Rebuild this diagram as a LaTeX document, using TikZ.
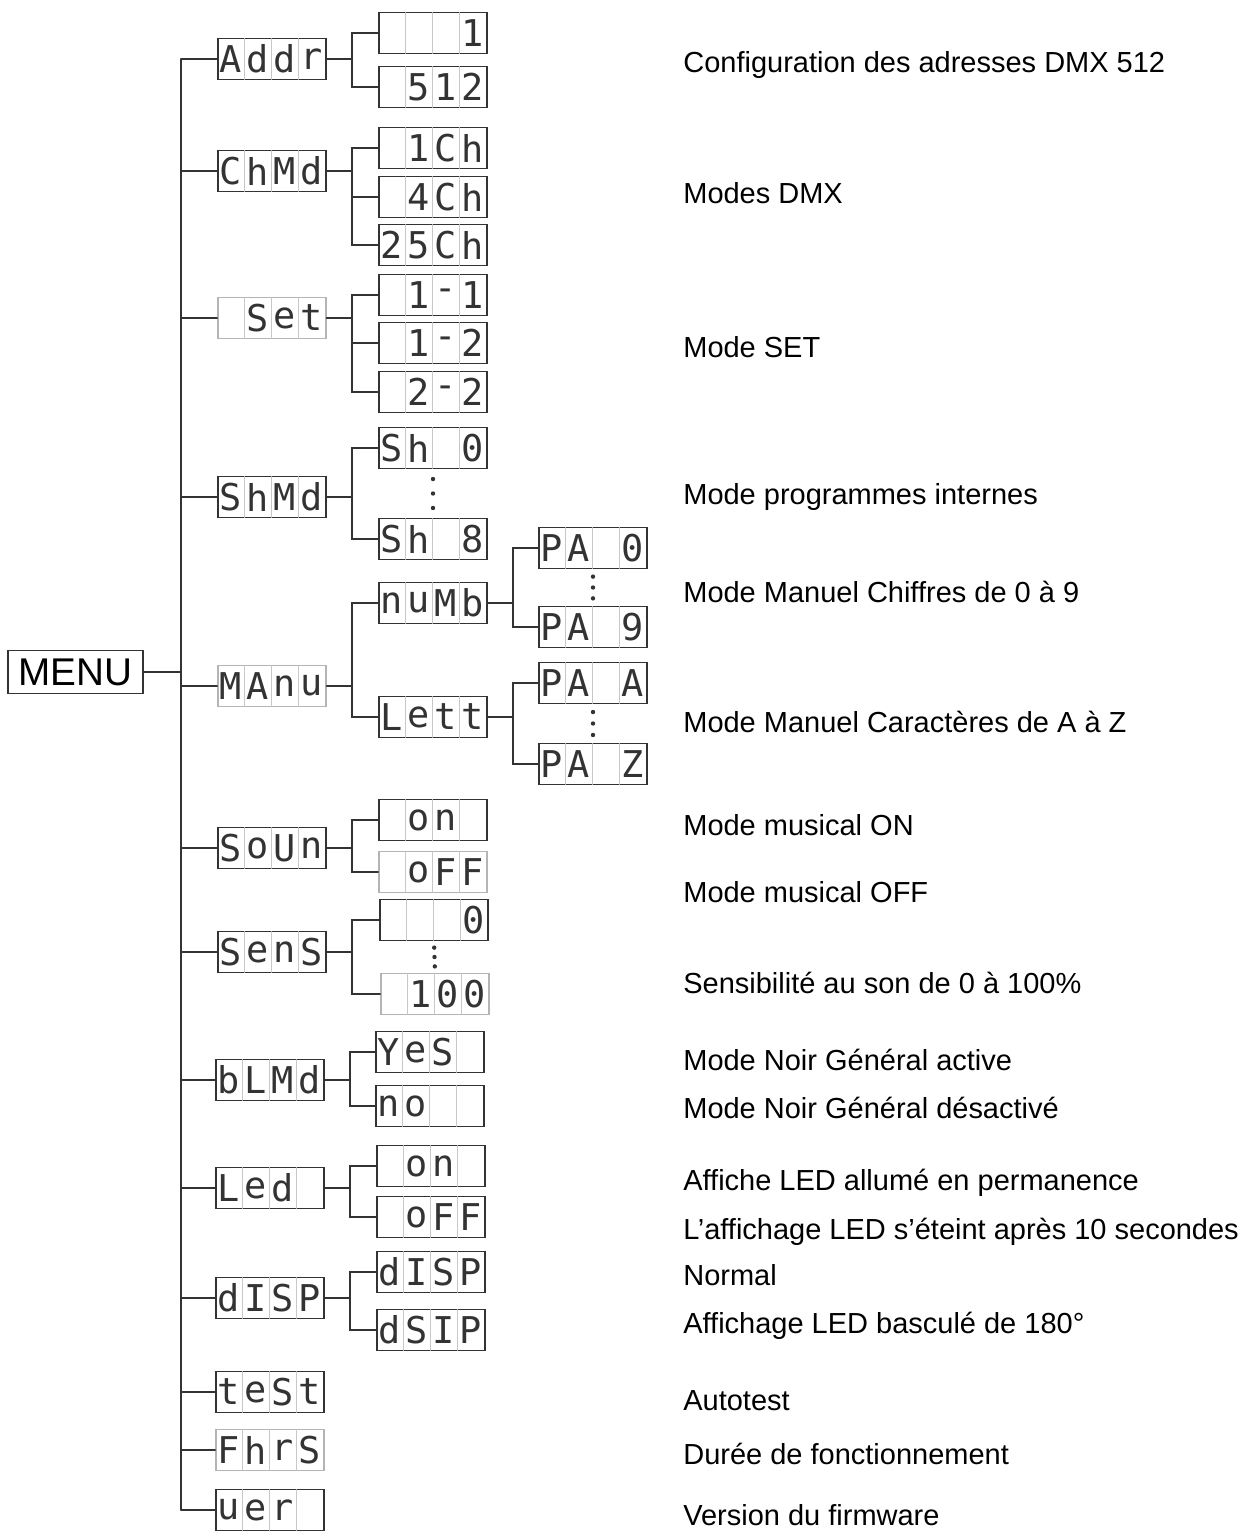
\documentclass[tikz,border=0pt]{standalone}
\usepackage{fontspec}
\setmainfont{Liberation Sans}
\newfontfamily\segfont{DejaVu Sans Mono}
\usetikzlibrary{calc,positioning}
\definecolor{tinta}{HTML}{333333}
\definecolor{pale}{HTML}{B4B4B4}
\definecolor{cellgris}{HTML}{C8C8C8}

\begin{document}
\begin{tikzpicture}[x=0.02cm,y=-0.02cm,line cap=round,
    link/.style={tinta,line width=0.85pt},
    lcd/.style={draw=#1,line width=1pt,minimum width=2.16cm,minimum height=0.82cm,inner sep=0pt},
    seg/.style={tinta,font=\segfont\fontsize{21}{21}\selectfont,inner sep=0pt},
    cell/.style={cellgris,line width=0.5pt},
    note/.style={black,font=\fontsize{16.5}{19}\selectfont,anchor=base west,inner sep=0pt}]
  \useasboundingbox (0,0) rectangle (1250,1531);

  % menu box
  \node[draw=tinta,line width=1pt,minimum width=2.7cm,minimum height=0.86cm,inner sep=0pt,
        font=\fontsize{22}{22}\selectfont] (menu) at (75.5,672) {MENU};

  % displays: name/x/y/four cells/border
  \foreach \nm/\x/\y/\a/\b/\c/\d/\col in {
      addr/272/59/A/d/d/r/tinta,
      a1/433/33/{}/{}/{}/1/tinta,
      a512/433/87/{}/5/1/2/tinta,
      chmd/272/171/C/h/M/d/tinta,
      c1/433/148/{}/1/C/h/tinta,
      c4/433/197/{}/4/C/h/tinta,
      c25/433/245/2/5/C/h/tinta,
      set/272/318/{}/S/e/t/pale,
      s11/433/295/{}/1/-/1/tinta,
      s12/433/343/{}/1/-/2/tinta,
      s22/433/392/{}/2/-/2/tinta,
      shmd/272/497/S/h/M/d/tinta,
      sh0/433/448/S/h/{}/0/tinta,
      sh8/433/539/S/h/{}/8/tinta,
      manu/272/686/M/A/n/u/pale,
      numb/433/603/n/u/M/b/tinta,
      lett/433/717/L/e/t/t/tinta,
      pa0/593/548/P/A/{}/0/tinta,
      pa9/593/627/P/A/{}/9/tinta,
      paa/593/683/P/A/{}/A/tinta,
      paz/593/764/P/A/{}/Z/tinta,
      soun/272/848/S/o/U/n/tinta,
      son/433/820/{}/o/n/{}/tinta,
      soff/433/872/{}/o/F/F/pale,
      sens/272/952/S/e/n/S/tinta,
      se0/434/920/{}/{}/{}/0/tinta,
      se100/435/994/{}/1/0/0/pale,
      blmd/270/1080/b/L/M/d/tinta,
      yes/430/1052/Y/e/S/{}/tinta,
      no/430/1106/n/o/{}/{}/tinta,
      led/270/1188/L/e/d/{}/tinta,
      lon/431/1166/{}/o/n/{}/tinta,
      loff/431/1217/{}/o/F/F/tinta,
      disp/270/1298/d/I/S/P/tinta,
      dsp1/431/1272/d/I/S/P/tinta,
      dsip/431/1330/d/S/I/P/tinta,
      test/270/1392/t/e/S/t/tinta,
      fhrs/270/1450/F/h/r/S/pale,
      uer/270/1510/u/e/r/{}/tinta}{
    \node[lcd=\col] (\nm) at (\x,\y) {};
    \foreach \k in {1,2,3}
      \draw[cell] ($(\nm.north west)+(27*\k,1)$) -- ($(\nm.south west)+(27*\k,-1)$);
    \foreach \k/\ch in {1/\a,2/\b,3/\c,4/\d}
      \node[seg] (\nm-\k) at ($(\nm.west)+(27*\k-13.5,0)$) {\ch};
  }

  % trunk and first level
  \coordinate (trunk) at (181,0);
  \draw[link] (menu.east) -- (menu.east -| trunk);
  \draw[link] (addr.west -| trunk) -- (uer.west -| trunk);
  \foreach \n in {addr,chmd,set,shmd,manu,soun,sens,blmd,led,disp,test,fhrs,uer}
    \draw[link] (\n.west) -- (\n.west -| trunk);

  % sub-levels
  \foreach \p/\c in {addr/a1,addr/a512,chmd/c1,chmd/c4,chmd/c25,
      set/s11,set/s12,set/s22,shmd/sh0,shmd/sh8,manu/numb,manu/lett,
      numb/pa0,numb/pa9,lett/paa,lett/paz,soun/son,soun/soff,
      sens/se0,sens/se100,blmd/yes,blmd/no,led/lon,led/loff,disp/dsp1,disp/dsip}
    \draw[link] (\p.east) -- ++(25,0) |- (\c.west);

  % skipped values
  \foreach \a/\b in {sh0/sh8,pa0/pa9,paa/paz,se0/se100}
    \foreach \t in {0.2,0.5,0.8}
      \fill[tinta] ($(\a.south)!\t!(\b.north)$) circle (2.2);

  % descriptions
  \foreach \y/\txt [count=\i] in {
      73/Configuration des adresses DMX 512,
      203/Modes DMX,
      357/Mode SET,
      504/Mode programmes internes,
      602/Mode Manuel Chiffres de 0 à 9,
      732/Mode Manuel Caractères de A à Z,
      835/Mode musical ON,
      902/Mode musical OFF,
      993/Sensibilité au son de 0 à 100\%,
      1070/Mode Noir Général active,
      1118/Mode Noir Général désactivé,
      1190/Affiche LED allumé en permanence,
      1239/L’affichage LED s’éteint après 10 secondes,
      1285/Normal,
      1333/Affichage LED basculé de 180°,
      1410/Autotest,
      1464/Durée de fonctionnement,
      1525/Version du firmware}
    \node[note] (txt\i) at (683,\y) {\txt};
\end{tikzpicture}
\end{document}
